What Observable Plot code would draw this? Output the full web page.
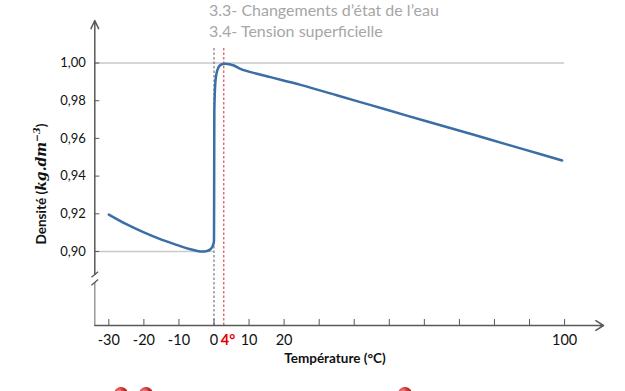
<!DOCTYPE html>
<html>
<head>
<meta charset="utf-8">
<script src="https://cdn.jsdelivr.net/npm/d3@7"></script>
<script src="https://cdn.jsdelivr.net/npm/@observablehq/plot@0.6"></script>
<style>
  body { margin: 0; background: #fff; }
  #wrap { position: relative; width: 625px; height: 391px; overflow: hidden; font-family: Lato, "Open Sans", sans-serif; }
  .head { position: absolute; left: 209px; color: #a6a6a6; font-size: 16px; font-family: Lato, sans-serif; white-space: nowrap; }
  #deco { position: absolute; left: 0; top: 0; }
</style>
</head>
<body>
<div id="wrap">
  <div id="chart"></div>
  <div class="head" style="top:0px">3.3- Changements d’état de l’eau</div>
  <div class="head" style="top:21px">3.4- Tension superficielle</div>
  <svg id="deco" width="625" height="391">
    <defs>
      <radialGradient id="ball" cx="0.35" cy="0.35" r="0.7">
        <stop offset="0" stop-color="#f4a0a0"/>
        <stop offset="0.5" stop-color="#d03030"/>
        <stop offset="1" stop-color="#8a1515"/>
      </radialGradient>
    </defs>
    <circle cx="121" cy="394" r="7" fill="url(#ball)"/>
    <circle cx="146" cy="394" r="7" fill="url(#ball)"/>
    <circle cx="405" cy="394" r="7" fill="url(#ball)"/>
  </svg>
</div>
<script>
// ---- data ----
const temperatures = [-30, -25, -20, -15, -10, -7, -5, -3.5, -2, -1, -0.3, 0, 0.05, 0.1, 0.43, 1.08, 2.05, 3.28, 5.65, 7.56, 12.3, 16.1, 24.7, 35, 45, 55, 64.6, 74.1, 83.7, 93.2, 99.3];
const densities    = [0.9196, 0.9145, 0.9101, 0.9063, 0.9031, 0.9013, 0.9004, 0.9000, 0.9003, 0.9012, 0.9032, 0.9058, 0.94, 0.975, 0.9907, 0.9969, 0.9992, 0.9996, 0.9987, 0.9969, 0.9943, 0.9925, 0.9884, 0.9829, 0.9775, 0.9721, 0.9670, 0.9619, 0.9567, 0.9516, 0.9483];
const xTicks = [-30, -20, -10, 0, 10, 20, 30, 40, 50, 60, 70, 80, 90, 100];
const xTickLabels = [-30, -20, -10, 0, 10, 20, 100];
const yTicks = [0.90, 0.92, 0.94, 0.96, 0.98, 1.00];
const maxDensityTemp = [4];
const freezingLine = [0];
const maxDensityLine = [2.8];
const refLines = [1.00, 0.90];

const data = temperatures.map((t, i) => ({t, d: densities[i]}));

const xMin = -34, xMax = 111.1, yMin = 0.86074, yMax = 1.02255;
const breakUpper = 0.8878, breakLower = 0.8836;
const axisColor = "#595959";

const plot = Plot.plot({
  width: 625, height: 391,
  marginLeft: 94.3, marginRight: 22, marginTop: 20, marginBottom: 66,
  style: {fontFamily: "Lato, 'Open Sans', sans-serif", background: "transparent", overflow: "visible"},
  x: {domain: [xMin, xMax], axis: null},
  y: {domain: [yMin, yMax], axis: null},
  marks: [
    Plot.ruleY([refLines[0]], {x1: xMin, x2: 100, stroke: "#c9c9c9", strokeWidth: 1.5}),
    Plot.ruleY([refLines[1]], {x1: xMin, x2: 0, stroke: "#c9c9c9", strokeWidth: 1.5}),
    Plot.ruleX(freezingLine, {y1: yMin, y2: 1.008, stroke: "#606060", strokeWidth: 1, strokeDasharray: "2.5,2"}),
    Plot.ruleX(maxDensityLine, {y1: yMin, y2: 1.008, stroke: "#d42a2a", strokeWidth: 1, strokeDasharray: "2.5,2"}),
    Plot.line(data, {x: "t", y: "d", stroke: "#3a6ea5", strokeWidth: 2.5, curve: "monotone-x"}),
    // axes
    Plot.arrow([0], {x1: xMin, x2: xMin, y1: breakUpper, y2: yMax, stroke: axisColor, strokeWidth: 1.5, headLength: 9, headAngle: 50}),
    Plot.ruleX([xMin], {y1: yMin, y2: breakLower, stroke: "#9a9a9a", strokeWidth: 1.5}),
    Plot.arrow([0], {x1: xMin, x2: xMax, y1: yMin, y2: yMin, stroke: axisColor, strokeWidth: 1.5, headLength: 9, headAngle: 64}),
    // axis break marks
    Plot.link([breakUpper, breakLower], {x1: xMin - 0.95, x2: xMin + 0.95, y1: d => d - 0.0015, y2: d => d + 0.0015, stroke: axisColor, strokeWidth: 1.3}),
    // ticks
    Plot.ruleX(xTicks, {x: d => d, y1: yMin, y2: yMin, insetTop: -6, stroke: axisColor, strokeWidth: 1}),
    Plot.ruleY(yTicks, {y: d => d, x1: xMin, x2: xMin, insetRight: -5, stroke: axisColor, strokeWidth: 1}),
    // tick labels
    Plot.text(xTickLabels, {x: d => d, y: yMin, dy: 15, text: d => String(d), fontSize: 14.5, fill: "#111"}),
    Plot.text(maxDensityTemp, {x: d => d, y: yMin, dy: 15, text: d => d + "°", fontSize: 14.5, fontWeight: "bold", fill: "#e00000"}),
    Plot.text(yTicks, {x: xMin, y: d => d, dx: -9, textAnchor: "end", text: d => d.toFixed(2).replace(".", ","), fontSize: 13, fill: "#111"})
  ]
});
document.getElementById("chart").appendChild(plot);

const svg = d3.select(plot);
// x axis title
svg.append("text")
  .attr("x", 335).attr("y", 363)
  .attr("text-anchor", "middle")
  .attr("font-size", 13.5).attr("font-weight", "bold").attr("fill", "#111")
  .text("Température (°C)");
// y axis title with math part
const yt = svg.append("text")
  .attr("transform", "translate(46,184) rotate(-90)")
  .attr("text-anchor", "middle")
  .attr("font-size", 13.5).attr("font-weight", "bold").attr("fill", "#111");
yt.append("tspan").text("Densité (");
yt.append("tspan").attr("font-family", "'DejaVu Serif', 'Liberation Serif', serif").attr("font-style", "italic").attr("font-size", 14).text("kg.dm");
yt.append("tspan").attr("font-family", "'DejaVu Serif', serif").attr("font-style", "italic").attr("font-size", 9.5).attr("dy", -6).text("−3");
yt.append("tspan").attr("dy", 6).text(")");
</script>
</body>
</html>
